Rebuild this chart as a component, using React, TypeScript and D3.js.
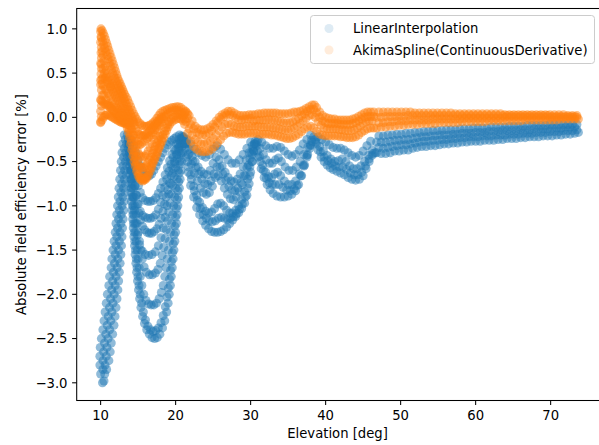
import React from "react";
import * as d3 from "d3";

const W = 599;
const H = 445;
const xDomain: [number, number] = [6.81, 76.9];
const yDomain: [number, number] = [-3.2, 1.23];
const xTicks = [10, 20, 30, 40, 50, 60, 70];
const yTicks = [1.0, 0.5, 0.0, -0.5, -1.0, -1.5, -2.0, -2.5, -3.0];
const seriesNames = ["LinearInterpolation", "AkimaSpline(ContinuousDerivative)"];
const seriesColors = ["#1f77b4", "#ff7f0e"];
const xLabel = "Elevation [deg]";
const yLabel = "Absolute field efficiency error [%]";

// ---- LinearInterpolation (blue) : strands of "elevation,error" pairs ----
const blueLeftBand = [
  "10.25,-3.0 10.0,-2.9 9.9,-2.8 9.9,-2.7 9.95,-2.6 10.1,-2.5 10.3,-2.4 10.45,-2.3 10.6,-2.2 10.75,-2.1 10.9,-2.0 11.1,-1.9 11.2,-1.8 11.4,-1.7 11.5,-1.6 11.65,-1.5 11.8,-1.4 11.95,-1.3 12.05,-1.2 12.15,-1.1 12.25,-1.0 12.35,-0.9 12.45,-0.8 12.55,-0.7 12.65,-0.6 12.75,-0.5 12.85,-0.4 12.95,-0.3 13.15,-0.2",
  "10.45,-2.98 10.3,-2.85 10.32,-2.75 10.4,-2.65 10.52,-2.55 10.7,-2.45 10.88,-2.35 11.02,-2.25 11.18,-2.15 11.32,-2.05 11.48,-1.95 11.6,-1.85 11.72,-1.75 11.85,-1.65 11.95,-1.55 12.05,-1.45 12.15,-1.35 12.25,-1.25 12.38,-1.15 12.5,-1.05 12.6,-0.95 12.7,-0.85 12.8,-0.75 12.9,-0.65 12.98,-0.55 13.05,-0.45 13.15,-0.35 13.28,-0.25",
  "10.55,-2.9 10.6,-2.8 10.75,-2.7 10.85,-2.6 11.0,-2.5 11.2,-2.4 11.35,-2.3 11.5,-2.2 11.65,-2.1 11.8,-2.0 11.95,-1.9 12.05,-1.8 12.2,-1.7 12.3,-1.6 12.4,-1.5 12.5,-1.4 12.6,-1.3 12.7,-1.2 12.75,-1.1 12.85,-1.0 12.95,-0.9 13.05,-0.8 13.15,-0.7 13.2,-0.6 13.3,-0.5 13.35,-0.4 13.45,-0.3 13.55,-0.2",
  "10.8,-2.85 11.1,-2.75 11.28,-2.65 11.42,-2.55 11.6,-2.45 11.78,-2.35 11.92,-2.25 12.05,-2.15 12.18,-2.05 12.3,-1.95 12.4,-1.85 12.5,-1.75 12.6,-1.65 12.7,-1.55 12.78,-1.45 12.85,-1.35 12.92,-1.25 13.0,-1.15 13.08,-1.05 13.15,-0.95 13.25,-0.85 13.32,-0.75 13.4,-0.65 13.48,-0.55 13.55,-0.45 13.65,-0.35 13.75,-0.25",
];

const blueDip1 = [
  "13.7,-0.25 13.75,-0.35 13.82,-0.45 13.88,-0.55 13.93,-0.65 14.0,-0.75 14.05,-0.85 14.12,-0.95 14.2,-1.05 14.27,-1.15 14.35,-1.25 14.43,-1.35 14.52,-1.45 14.6,-1.55 14.7,-1.65 14.8,-1.75 14.92,-1.85 15.05,-1.95 15.2,-2.05 15.37,-2.15 15.6,-2.25 15.85,-2.33 16.15,-2.4 16.5,-2.45 16.85,-2.49 17.2,-2.5 17.55,-2.49 17.9,-2.45 18.25,-2.38 18.55,-2.3 18.8,-2.2 19.0,-2.1 19.15,-2.0 19.3,-1.9 19.42,-1.8 19.55,-1.7 19.67,-1.6 19.78,-1.5 19.9,-1.4 20.0,-1.3 20.1,-1.2 20.2,-1.1 20.3,-1.0 20.4,-0.9 20.5,-0.8 20.6,-0.7 20.7,-0.6 20.8,-0.5 20.9,-0.4 21.0,-0.3 21.1,-0.22",
  "13.78,-0.3 13.85,-0.4 13.9,-0.5 13.96,-0.6 14.02,-0.7 14.08,-0.8 14.15,-0.9 14.22,-1.0 14.3,-1.1 14.38,-1.2 14.46,-1.3 14.55,-1.4 14.65,-1.5 14.75,-1.6 14.86,-1.7 14.98,-1.8 15.12,-1.9 15.28,-2.0 15.47,-2.1 15.7,-2.2 15.98,-2.29 16.3,-2.36 16.65,-2.4 17.0,-2.42 17.35,-2.41 17.7,-2.38 18.05,-2.32 18.35,-2.24 18.62,-2.14 18.85,-2.03 19.03,-1.93 19.18,-1.83 19.32,-1.73 19.45,-1.63 19.57,-1.53 19.68,-1.43 19.8,-1.33 19.9,-1.23 20.0,-1.13 20.1,-1.03 20.2,-0.93 20.3,-0.83 20.4,-0.73 20.5,-0.63 20.6,-0.53 20.72,-0.43 20.85,-0.33 21.0,-0.25",
  "13.8,-0.3 13.87,-0.4 13.95,-0.5 14.02,-0.6 14.1,-0.7 14.18,-0.8 14.27,-0.9 14.36,-1.0 14.45,-1.1 14.55,-1.2 14.65,-1.3 14.76,-1.4 14.88,-1.5 15.0,-1.6 15.15,-1.7 15.3,-1.8 15.5,-1.9 15.75,-2.0 16.05,-2.07 16.4,-2.11 16.75,-2.12 17.1,-2.12 17.45,-2.1 17.8,-2.05 18.1,-1.98 18.35,-1.9 18.55,-1.8 18.72,-1.7 18.88,-1.6 19.03,-1.5 19.18,-1.4 19.32,-1.3 19.46,-1.2 19.6,-1.1 19.74,-1.0 19.88,-0.9 20.03,-0.8 20.18,-0.7 20.33,-0.6 20.5,-0.5 20.68,-0.4 20.88,-0.3 21.05,-0.23",
  "13.85,-0.3 13.95,-0.4 14.05,-0.5 14.15,-0.6 14.25,-0.7 14.35,-0.8 14.47,-0.9 14.6,-1.0 14.73,-1.1 14.87,-1.2 15.02,-1.3 15.18,-1.4 15.36,-1.5 15.56,-1.6 15.8,-1.69 16.1,-1.75 16.5,-1.78 16.9,-1.78 17.3,-1.76 17.65,-1.72 17.95,-1.65 18.2,-1.56 18.4,-1.47 18.58,-1.37 18.75,-1.27 18.92,-1.17 19.08,-1.07 19.25,-0.97 19.42,-0.87 19.6,-0.77 19.8,-0.67 20.0,-0.57 20.2,-0.47 20.45,-0.38 20.7,-0.3 20.95,-0.23",
  "13.88,-0.32 13.98,-0.45 14.1,-0.6 14.22,-0.75 14.36,-0.9 14.52,-1.05 14.7,-1.2 14.92,-1.33 15.2,-1.44 15.55,-1.51 15.95,-1.55 16.4,-1.56 16.85,-1.55 17.3,-1.52 17.7,-1.45 18.05,-1.36 18.35,-1.25 18.6,-1.13 18.85,-1.0 19.1,-0.87 19.35,-0.75 19.6,-0.63 19.88,-0.52 20.18,-0.42 20.5,-0.33 20.8,-0.26",
  "13.9,-0.28 14.02,-0.38 14.15,-0.48 14.28,-0.58 14.42,-0.68 14.57,-0.78 14.73,-0.88 14.9,-0.98 15.1,-1.08 15.32,-1.16 15.57,-1.23 15.85,-1.27 16.2,-1.3 16.5,-1.31 16.8,-1.31 17.15,-1.29 17.5,-1.26 17.8,-1.21 18.05,-1.14 18.3,-1.06 18.52,-0.98 18.74,-0.9 18.96,-0.82 19.18,-0.74 19.4,-0.66 19.62,-0.58 19.85,-0.5 20.1,-0.42 20.35,-0.35 20.62,-0.28 20.9,-0.22",
  "13.95,-0.3 14.1,-0.42 14.26,-0.54 14.42,-0.66 14.6,-0.77 14.8,-0.88 15.02,-0.98 15.28,-1.06 15.6,-1.11 15.95,-1.13 16.3,-1.14 16.65,-1.14 17.0,-1.13 17.35,-1.1 17.7,-1.04 18.0,-0.96 18.28,-0.88 18.55,-0.79 18.82,-0.7 19.1,-0.61 19.38,-0.53 19.68,-0.45 20.0,-0.37 20.33,-0.3 20.7,-0.24",
  "14.0,-0.28 14.2,-0.38 14.4,-0.48 14.6,-0.58 14.82,-0.68 15.05,-0.77 15.3,-0.85 15.6,-0.91 15.95,-0.94 16.3,-0.95 16.65,-0.95 17.0,-0.94 17.35,-0.91 17.7,-0.86 18.0,-0.8 18.3,-0.73 18.6,-0.65 18.9,-0.57 19.2,-0.49 19.5,-0.42 19.8,-0.36 20.1,-0.3 20.45,-0.25 20.8,-0.21",
  "14.1,-0.25 14.4,-0.32 14.7,-0.4 15.0,-0.48 15.3,-0.55 15.6,-0.6 15.9,-0.64 16.2,-0.66 16.5,-0.66 16.8,-0.64 17.1,-0.6 17.4,-0.55 17.7,-0.5 18.0,-0.45 18.3,-0.4 18.6,-0.35 18.9,-0.31 19.2,-0.28 19.5,-0.26 19.8,-0.24 20.1,-0.22 20.5,-0.2",
];

const blueDip2 = [
  "21.1,-0.25 21.4,-0.45 21.7,-0.62 22.0,-0.77 22.4,-0.9 22.8,-1.02 23.2,-1.1 23.6,-1.17 24.0,-1.22 24.4,-1.26 24.8,-1.29 25.2,-1.3 25.6,-1.3 26.0,-1.29 26.4,-1.27 26.8,-1.24 27.2,-1.2 27.6,-1.16 28.0,-1.12 28.4,-1.08 28.8,-1.03 29.2,-0.97 29.5,-0.88 29.8,-0.75 30.0,-0.62 30.2,-0.5 30.4,-0.38 30.6,-0.27",
  "21.3,-0.35 21.7,-0.56 22.1,-0.7 22.5,-0.83 22.9,-0.94 23.3,-1.03 23.7,-1.1 24.1,-1.14 24.5,-1.17 24.9,-1.18 25.3,-1.17 25.7,-1.14 26.1,-1.13 26.5,-1.14 26.9,-1.15 27.3,-1.14 27.7,-1.12 28.1,-1.09 28.5,-1.04 28.9,-0.98 29.3,-0.9 29.6,-0.8 29.9,-0.66 30.2,-0.5 30.4,-0.38",
  "21.2,-0.3 21.6,-0.5 22.0,-0.65 22.4,-0.78 22.8,-0.88 23.2,-0.96 23.6,-1.02 24.0,-1.06 24.4,-1.08 24.8,-1.07 25.2,-1.03 25.6,-0.98 26.0,-0.97 26.4,-1.0 26.8,-1.05 27.2,-1.08 27.6,-1.08 28.0,-1.05 28.4,-1.0 28.8,-0.93 29.2,-0.84 29.6,-0.7 29.9,-0.56 30.2,-0.42 30.5,-0.3",
  "21.3,-0.3 21.7,-0.42 22.1,-0.53 22.5,-0.63 22.9,-0.72 23.3,-0.8 23.7,-0.85 24.1,-0.87 24.5,-0.85 24.9,-0.78 25.3,-0.68 25.7,-0.66 26.1,-0.72 26.5,-0.8 26.9,-0.87 27.3,-0.92 27.7,-0.93 28.1,-0.9 28.5,-0.84 28.9,-0.76 29.3,-0.66 29.7,-0.54 30.1,-0.4 30.5,-0.3",
  "21.5,-0.3 21.9,-0.4 22.3,-0.49 22.7,-0.57 23.1,-0.64 23.5,-0.7 23.9,-0.75 24.3,-0.76 24.7,-0.72 25.1,-0.64 25.5,-0.56 25.9,-0.57 26.3,-0.64 26.7,-0.71 27.1,-0.78 27.5,-0.82 27.9,-0.83 28.3,-0.8 28.7,-0.74 29.1,-0.66 29.5,-0.57 29.9,-0.47 30.3,-0.36",
  "21.4,-0.28 21.8,-0.36 22.2,-0.44 22.6,-0.5 23.0,-0.56 23.4,-0.61 23.8,-0.64 24.2,-0.65 24.6,-0.6 25.0,-0.52 25.4,-0.45 25.8,-0.48 26.2,-0.55 26.6,-0.62 27.0,-0.68 27.4,-0.72 27.8,-0.73 28.2,-0.7 28.6,-0.64 29.0,-0.56 29.4,-0.48 29.8,-0.4 30.2,-0.32",
  "21.5,-0.25 22.0,-0.3 22.5,-0.36 23.0,-0.4 23.5,-0.43 24.0,-0.45 24.5,-0.42 25.0,-0.36 25.5,-0.32 26.0,-0.36 26.5,-0.42 27.0,-0.48 27.5,-0.52 28.0,-0.52 28.5,-0.48 29.0,-0.42 29.5,-0.35 30.0,-0.28",
];

const blueDip3 = [
  "30.7,-0.3 31.0,-0.45 31.4,-0.58 31.8,-0.68 32.2,-0.76 32.6,-0.82 33.0,-0.86 33.5,-0.89 34.0,-0.9 34.5,-0.9 35.0,-0.89 35.5,-0.87 36.0,-0.83 36.4,-0.76 36.8,-0.66 37.2,-0.54 37.6,-0.42 38.0,-0.31 38.4,-0.22",
  "30.9,-0.38 31.3,-0.5 31.7,-0.6 32.1,-0.69 32.5,-0.74 32.9,-0.76 33.3,-0.76 33.8,-0.76 34.3,-0.79 34.8,-0.82 35.3,-0.83 35.8,-0.81 36.2,-0.77 36.7,-0.66 37.1,-0.55 37.5,-0.45 37.9,-0.35 38.2,-0.28",
  "30.8,-0.32 31.2,-0.44 31.6,-0.54 32.0,-0.62 32.4,-0.67 32.8,-0.68 33.2,-0.64 33.6,-0.62 34.0,-0.66 34.5,-0.72 35.0,-0.76 35.5,-0.76 36.0,-0.72 36.5,-0.64 37.0,-0.54 37.5,-0.43 38.0,-0.32",
  "30.9,-0.28 31.3,-0.35 31.7,-0.42 32.1,-0.48 32.5,-0.52 32.9,-0.52 33.3,-0.48 33.7,-0.46 34.1,-0.5 34.6,-0.56 35.1,-0.6 35.6,-0.6 36.1,-0.56 36.6,-0.5 37.1,-0.42 37.6,-0.34 38.1,-0.26",
  "31.0,-0.25 31.5,-0.28 32.0,-0.32 32.5,-0.35 33.0,-0.35 33.5,-0.33 34.0,-0.34 34.5,-0.38 35.0,-0.42 35.5,-0.44 36.0,-0.42 36.5,-0.37 37.0,-0.3 37.5,-0.25 38.0,-0.2",
];

const blueDip4 = [
  "38.6,-0.25 39.0,-0.37 39.4,-0.45 39.8,-0.5 40.2,-0.54 40.6,-0.57 41.0,-0.59 41.5,-0.61 42.0,-0.63 42.5,-0.65 43.0,-0.68 43.5,-0.7 44.0,-0.71 44.5,-0.7 45.0,-0.66 45.4,-0.58 45.8,-0.5 46.2,-0.43 46.6,-0.4",
  "38.8,-0.3 39.3,-0.39 39.8,-0.45 40.3,-0.49 40.8,-0.52 41.3,-0.55 41.8,-0.56 42.3,-0.56 42.8,-0.59 43.3,-0.63 43.8,-0.65 44.3,-0.65 44.8,-0.62 45.3,-0.55 45.8,-0.47 46.3,-0.41",
  "38.7,-0.28 39.2,-0.33 39.7,-0.38 40.2,-0.43 40.7,-0.47 41.2,-0.5 41.7,-0.49 42.2,-0.47 42.7,-0.5 43.2,-0.55 43.7,-0.58 44.2,-0.58 44.7,-0.55 45.2,-0.5 45.7,-0.43 46.2,-0.37",
  "39.0,-0.22 39.5,-0.25 40.0,-0.28 40.5,-0.31 41.0,-0.34 41.5,-0.35 42.0,-0.35 42.5,-0.37 43.0,-0.4 43.5,-0.43 44.0,-0.45 44.5,-0.43 45.0,-0.38 45.5,-0.32 46.0,-0.27",
];

const blueTail = [
  "46.8,-0.4 47.4,-0.41 48.0,-0.41 48.6,-0.4 49.2,-0.38 49.8,-0.38 50.4,-0.37 51.0,-0.37 51.6,-0.35 52.2,-0.34 52.8,-0.33 53.4,-0.33 54.0,-0.32 54.6,-0.32 55.2,-0.31 55.8,-0.3 56.4,-0.3 57.0,-0.29 57.6,-0.29 58.2,-0.28 58.8,-0.28 59.4,-0.27 60.0,-0.27 60.6,-0.27 61.2,-0.26 61.8,-0.26 62.4,-0.26 63.0,-0.25 63.6,-0.25 64.2,-0.24 64.8,-0.24 65.4,-0.24 66.0,-0.23 66.6,-0.23 67.2,-0.22 67.8,-0.22 68.4,-0.22 69.0,-0.21 69.6,-0.21 70.2,-0.21 70.8,-0.2 71.4,-0.2 72.0,-0.19 72.6,-0.19 73.2,-0.18 73.7,-0.17",
  "47.1,-0.34 47.7,-0.35 48.3,-0.34 48.9,-0.33 49.5,-0.32 50.1,-0.31 50.7,-0.31 51.3,-0.3 51.9,-0.29 52.5,-0.28 53.1,-0.27 53.7,-0.27 54.3,-0.26 54.9,-0.26 55.5,-0.25 56.1,-0.25 56.7,-0.24 57.3,-0.24 57.9,-0.23 58.5,-0.23 59.1,-0.22 59.7,-0.22 60.3,-0.22 60.9,-0.21 61.5,-0.21 62.1,-0.21 62.7,-0.2 63.3,-0.2 63.9,-0.2 64.5,-0.19 65.1,-0.19 65.7,-0.19 66.3,-0.18 66.9,-0.18 67.5,-0.18 68.1,-0.17 68.7,-0.17 69.3,-0.17 69.9,-0.16 70.5,-0.16 71.1,-0.16 71.7,-0.15 72.3,-0.15 72.9,-0.15 73.5,-0.14",
  "46.8,-0.28 47.4,-0.28 48.0,-0.28 48.6,-0.27 49.2,-0.26 49.8,-0.26 50.4,-0.25 51.0,-0.25 51.6,-0.24 52.2,-0.23 52.8,-0.22 53.4,-0.22 54.0,-0.21 54.6,-0.21 55.2,-0.2 55.8,-0.2 56.4,-0.2 57.0,-0.19 57.6,-0.19 58.2,-0.18 58.8,-0.18 59.4,-0.18 60.0,-0.17 60.6,-0.17 61.2,-0.17 61.8,-0.16 62.4,-0.16 63.0,-0.16 63.6,-0.15 64.2,-0.15 64.8,-0.15 65.4,-0.15 66.0,-0.14 66.6,-0.14 67.2,-0.14 67.8,-0.13 68.4,-0.13 69.0,-0.13 69.6,-0.13 70.2,-0.12 70.8,-0.12 71.4,-0.12 72.0,-0.11 72.6,-0.11 73.2,-0.11",
  "47.1,-0.21 47.7,-0.21 48.3,-0.2 48.9,-0.2 49.5,-0.19 50.1,-0.19 50.7,-0.18 51.3,-0.18 51.9,-0.17 52.5,-0.17 53.1,-0.16 53.7,-0.16 54.3,-0.15 54.9,-0.15 55.5,-0.15 56.1,-0.14 56.7,-0.14 57.3,-0.14 57.9,-0.13 58.5,-0.13 59.1,-0.13 59.7,-0.12 60.3,-0.12 60.9,-0.12 61.5,-0.12 62.1,-0.11 62.7,-0.11 63.3,-0.11 63.9,-0.11 64.5,-0.1 65.1,-0.1 65.7,-0.1 66.3,-0.1 66.9,-0.09 67.5,-0.09 68.1,-0.09 68.7,-0.09 69.3,-0.09 69.9,-0.08 70.5,-0.08 71.1,-0.08 71.7,-0.08 72.3,-0.08 72.9,-0.08 73.5,-0.08",
];

// ---- AkimaSpline(ContinuousDerivative) (orange) ----
const orangeHead = [
  "10.0,0.97 10.05,0.91 10.0,0.85 10.1,0.79 10.05,0.73 10.1,0.67 10.0,0.61 10.1,0.55 10.05,0.49 10.15,0.43 10.0,0.37 10.1,0.31 10.2,0.25 10.05,0.19 10.1,0.13 10.0,0.07 10.1,0.01 10.0,-0.05",
  "10.05,1.0 10.2,0.98 10.35,0.95 10.5,0.92 10.65,0.88 10.8,0.84 10.95,0.8 11.1,0.76 11.25,0.72 11.4,0.68 11.55,0.64 11.7,0.6 11.85,0.56 12.0,0.52 12.15,0.48 12.3,0.44 12.45,0.41 12.6,0.38 12.75,0.35 12.9,0.32 13.05,0.29 13.2,0.26 13.4,0.23 13.6,0.2 13.8,0.16 14.0,0.12 14.2,0.08 14.4,0.04 14.6,0.01 14.8,-0.02 15.0,-0.05 15.25,-0.07 15.5,-0.09 15.75,-0.1 16.0,-0.1 16.25,-0.1 16.5,-0.09 16.75,-0.08 17.0,-0.06 17.25,-0.04 17.5,-0.01 17.75,0.02 18.0,0.05 18.3,0.07 18.6,0.08 18.9,0.09 19.2,0.1 19.5,0.11 19.8,0.11 20.1,0.12 20.4,0.12 20.7,0.11 21.0,0.09 21.3,0.07 21.6,0.04",
  "10.1,0.9 10.25,0.86 10.4,0.82 10.55,0.78 10.7,0.74 10.85,0.7 11.0,0.66 11.15,0.62 11.3,0.58 11.45,0.54 11.6,0.5 11.75,0.47 11.9,0.44 12.05,0.41 12.2,0.38 12.35,0.35 12.5,0.32 12.65,0.3 12.8,0.27 12.95,0.24 13.1,0.21 13.25,0.18 13.4,0.15 13.55,0.12 13.7,0.09 13.85,0.06 14.0,0.03 14.15,0.0 14.3,-0.03 14.45,-0.06",
  "10.2,0.75 10.3,0.7 10.45,0.64 10.6,0.58 10.75,0.53 10.9,0.49 11.1,0.45 11.3,0.41 11.5,0.38 11.7,0.35 11.9,0.32 12.1,0.29 12.3,0.26 12.5,0.23 12.7,0.2 12.9,0.17 13.1,0.13 13.3,0.09 13.5,0.05 13.7,0.0 13.9,-0.06 14.1,-0.13 14.3,-0.2 14.5,-0.27 14.7,-0.33 14.9,-0.38 15.1,-0.42 15.35,-0.44 15.6,-0.45 15.85,-0.44 16.1,-0.42 16.35,-0.38 16.6,-0.34 16.85,-0.3 17.1,-0.25 17.35,-0.2 17.6,-0.15 17.85,-0.1 18.1,-0.06 18.4,-0.02 18.7,0.01 19.0,0.04 19.3,0.06 19.6,0.07 19.9,0.08 20.2,0.08 20.5,0.07 20.8,0.05 21.1,0.02",
  "10.1,0.6 10.3,0.55 10.5,0.5 10.7,0.46 10.9,0.42 11.1,0.38 11.3,0.34 11.5,0.31 11.7,0.28 11.9,0.25 12.1,0.22 12.3,0.19 12.5,0.16 12.7,0.13 12.9,0.1 13.1,0.07 13.3,0.04 13.5,0.01 13.7,-0.03",
  "10.0,0.42 10.2,0.38 10.4,0.35 10.6,0.32 10.8,0.3 11.0,0.27 11.2,0.24 11.4,0.21 11.6,0.18 11.8,0.15 12.0,0.12 12.2,0.1 12.4,0.08 12.6,0.06 12.8,0.04 13.0,0.02 13.2,-0.01 13.4,-0.04 13.6,-0.08 13.8,-0.14 13.95,-0.2 14.1,-0.27 14.25,-0.34 14.4,-0.41 14.55,-0.47 14.7,-0.53 14.9,-0.59 15.1,-0.64 15.3,-0.67 15.5,-0.69 15.7,-0.7 15.9,-0.69 16.1,-0.67 16.3,-0.63 16.5,-0.59 16.7,-0.55 16.9,-0.51 17.1,-0.47 17.3,-0.43 17.5,-0.39 17.7,-0.35 17.9,-0.3 18.1,-0.25 18.3,-0.2 18.5,-0.16 18.7,-0.12 18.9,-0.08 19.1,-0.05 19.4,-0.02 19.7,0.0 20.0,0.02 20.3,0.03 20.6,0.03 20.9,0.01 21.2,-0.02",
  "10.0,0.2 10.2,0.18 10.4,0.16 10.6,0.15 10.8,0.14 11.0,0.13 11.2,0.12 11.4,0.1 11.6,0.08 11.8,0.06 12.0,0.04 12.2,0.02 12.4,0.0 12.6,-0.02 12.8,-0.03 13.0,-0.04 13.2,-0.05 13.4,-0.06",
  "10.0,-0.06 10.2,-0.03 10.4,0.0 10.6,0.02 10.8,0.03 11.0,0.03 11.2,0.02 11.4,0.01 11.6,0.0 11.8,-0.01 12.0,-0.02 12.2,-0.03 12.4,-0.04 12.6,-0.05 12.8,-0.06 13.0,-0.06 13.2,-0.07 13.4,-0.08 13.55,-0.12 13.7,-0.17 13.85,-0.23 14.0,-0.3 14.15,-0.37 14.3,-0.44 14.45,-0.5 14.6,-0.55 14.8,-0.61 15.0,-0.66 15.2,-0.69 15.4,-0.71 15.6,-0.72 15.8,-0.71 16.0,-0.7 16.2,-0.68 16.4,-0.65 16.6,-0.61 16.8,-0.57 17.0,-0.52 17.2,-0.48 17.4,-0.44 17.6,-0.4 17.8,-0.35 18.0,-0.31 18.2,-0.27 18.4,-0.23 18.6,-0.19 18.8,-0.15 19.0,-0.11 19.2,-0.08 19.5,-0.05 19.8,-0.03 20.1,-0.02 20.4,-0.01 20.7,-0.02 21.0,-0.04",
  "14.3,-0.05 14.5,-0.09 14.7,-0.13 14.9,-0.16 15.1,-0.19 15.3,-0.2 15.5,-0.21 15.7,-0.21 15.9,-0.2 16.1,-0.19 16.3,-0.18 16.5,-0.16 16.7,-0.14 16.9,-0.12 17.1,-0.1 17.3,-0.08 17.5,-0.06 17.7,-0.04 17.9,-0.02 18.1,0.0",
  "13.6,-0.02 13.8,-0.06 14.0,-0.1 14.2,-0.15 14.4,-0.2 14.6,-0.24 14.8,-0.27 15.0,-0.3 15.2,-0.31 15.45,-0.3 15.7,-0.28 15.95,-0.26 16.2,-0.24 16.45,-0.22 16.7,-0.2 16.95,-0.17 17.2,-0.14 17.45,-0.11 17.7,-0.08 17.95,-0.05 18.2,-0.02 18.5,0.01 18.8,0.03",
  "14.5,-0.38 14.7,-0.44 14.9,-0.5 15.1,-0.54 15.3,-0.56 15.5,-0.57 15.7,-0.57 15.9,-0.56 16.1,-0.54 16.3,-0.51 16.5,-0.48 16.7,-0.45 16.9,-0.41 17.1,-0.37 17.3,-0.33 17.5,-0.29 17.7,-0.25 17.9,-0.21",
  "10.3,0.45 10.6,0.44 10.9,0.4 11.3,0.35 10.4,0.25 10.7,0.2 11.0,0.15 11.4,0.12 11.8,0.08 12.2,0.05 12.6,0.02",
];

const orangeDip2 = [
  "21.2,-0.08 21.6,-0.18 22.0,-0.27 22.4,-0.33 22.8,-0.36 23.2,-0.38 23.6,-0.39 24.0,-0.39 24.4,-0.38 24.8,-0.36 25.2,-0.33 25.6,-0.29 26.0,-0.25 26.4,-0.21 26.8,-0.18 27.2,-0.17 27.6,-0.17 28.0,-0.18 28.4,-0.19 28.8,-0.19 29.2,-0.19 29.6,-0.18 30.0,-0.18",
  "21.4,-0.05 21.8,-0.13 22.2,-0.2 22.6,-0.25 23.0,-0.28 23.4,-0.3 23.8,-0.3 24.2,-0.29 24.6,-0.27 25.0,-0.24 25.4,-0.2 25.8,-0.15 26.2,-0.11 26.6,-0.08 27.0,-0.07 27.4,-0.08 27.8,-0.1 28.2,-0.11 28.6,-0.11 29.0,-0.11 29.4,-0.1 29.8,-0.1",
  "21.2,0.05 21.6,-0.01 22.0,-0.08 22.4,-0.13 22.8,-0.17 23.2,-0.19 23.6,-0.2 24.0,-0.2 24.4,-0.18 24.8,-0.15 25.2,-0.11 25.6,-0.06 26.0,-0.02 26.4,0.01 26.8,0.03 27.2,0.03 27.6,0.02 28.0,-0.01 28.4,-0.03 28.8,-0.03 29.2,-0.02 29.6,-0.02 30.0,-0.01",
  "21.4,0.06 21.8,0.02 22.2,-0.04 22.6,-0.1 23.0,-0.13 23.4,-0.14 23.8,-0.14 24.2,-0.13 24.6,-0.11 25.0,-0.08 25.4,-0.04 25.8,0.0 26.2,0.03 26.6,0.05 27.0,0.07 27.4,0.07 27.8,0.05 28.2,0.03 28.6,0.02 29.0,0.02 29.4,0.02 29.8,0.03",
];

const orangeMid = [
  "30.4,-0.18 30.8,-0.18 31.2,-0.19 31.6,-0.19 32.0,-0.19 32.4,-0.19 32.8,-0.2 33.2,-0.2 33.6,-0.21 34.0,-0.22 34.4,-0.23 34.8,-0.24 35.2,-0.24 35.6,-0.23 36.0,-0.21 36.4,-0.19 36.8,-0.16 37.2,-0.13 37.6,-0.11 38.0,-0.1 38.4,-0.12 38.8,-0.16 39.2,-0.19 39.6,-0.2 40.0,-0.21 40.4,-0.21 40.8,-0.21 41.2,-0.21 41.6,-0.21 42.0,-0.22 42.4,-0.22 42.8,-0.23 43.2,-0.23 43.6,-0.23 44.0,-0.22 44.4,-0.2 44.8,-0.17 45.2,-0.15 45.6,-0.13 46.0,-0.12 46.4,-0.12",
  "30.2,-0.1 30.6,-0.1 31.0,-0.1 31.4,-0.11 31.8,-0.11 32.2,-0.11 32.6,-0.11 33.0,-0.12 33.4,-0.12 33.8,-0.13 34.2,-0.14 34.6,-0.15 35.0,-0.15 35.4,-0.14 35.8,-0.12 36.2,-0.1 36.6,-0.07 37.0,-0.04 37.4,-0.01 37.8,0.02 38.2,0.03 38.6,0.0 39.0,-0.05 39.4,-0.09 39.8,-0.12 40.2,-0.13 40.6,-0.13 41.0,-0.13 41.4,-0.13 41.8,-0.14 42.2,-0.14 42.6,-0.15 43.0,-0.15 43.4,-0.15 43.8,-0.14 44.2,-0.12 44.6,-0.1 45.0,-0.07 45.4,-0.05 45.8,-0.04 46.2,-0.04",
  "30.4,-0.04 30.8,-0.03 31.2,-0.03 31.6,-0.03 32.0,-0.03 32.4,-0.02 32.8,-0.03 33.2,-0.03 33.6,-0.04 34.0,-0.05 34.4,-0.06 34.8,-0.06 35.2,-0.06 35.6,-0.05 36.0,-0.03 36.4,-0.01 36.8,0.02 37.2,0.04 37.6,0.07 38.0,0.09 38.4,0.09 38.8,0.05 39.2,0.0 39.6,-0.04 40.0,-0.06 40.4,-0.07 40.8,-0.07 41.2,-0.07 41.6,-0.07 42.0,-0.08 42.4,-0.08 42.8,-0.08 43.2,-0.08 43.6,-0.07 44.0,-0.06 44.4,-0.04 44.8,-0.02 45.2,0.0 45.6,0.01 46.0,0.01 46.4,0.01",
  "30.2,0.03 30.6,0.03 31.0,0.04 31.4,0.04 31.8,0.05 32.2,0.05 32.6,0.05 33.0,0.05 33.4,0.05 33.8,0.04 34.2,0.04 34.6,0.04 35.0,0.04 35.4,0.05 35.8,0.06 36.2,0.06 36.6,0.07 37.0,0.08 37.4,0.1 37.8,0.12 38.2,0.14 38.5,0.14 38.8,0.11 39.2,0.06 39.6,0.02 40.0,0.0 40.4,-0.01 40.8,-0.02 41.2,-0.02 41.6,-0.03 42.0,-0.03 42.4,-0.03 42.8,-0.03 43.2,-0.03 43.6,-0.02 44.0,-0.01 44.4,0.01 44.8,0.03 45.2,0.05 45.6,0.06 46.0,0.06 46.4,0.06",
];

const orangeTail = [
  "46.8,-0.12 47.4,-0.11 48.0,-0.11 48.6,-0.1 49.2,-0.1 49.8,-0.09 50.4,-0.09 51.0,-0.08 51.6,-0.08 52.2,-0.08 52.8,-0.07 53.4,-0.07 54.0,-0.07 54.6,-0.07 55.2,-0.06 55.8,-0.06 56.4,-0.06 57.0,-0.06 57.6,-0.06 58.2,-0.05 58.8,-0.05 59.4,-0.05 60.0,-0.05 60.6,-0.05 61.2,-0.05 61.8,-0.04 62.4,-0.04 63.0,-0.04 63.6,-0.04 64.2,-0.04 64.8,-0.04 65.4,-0.04 66.0,-0.04 66.6,-0.03 67.2,-0.03 67.8,-0.03 68.4,-0.03 69.0,-0.03 69.6,-0.03 70.2,-0.03 70.8,-0.03 71.4,-0.02 72.0,-0.02 72.6,-0.02 73.2,-0.02 73.7,-0.02",
  "47.1,-0.06 47.7,-0.06 48.3,-0.05 48.9,-0.05 49.5,-0.04 50.1,-0.04 50.7,-0.04 51.3,-0.03 51.9,-0.03 52.5,-0.03 53.1,-0.03 53.7,-0.03 54.3,-0.02 54.9,-0.02 55.5,-0.02 56.1,-0.02 56.7,-0.02 57.3,-0.02 57.9,-0.02 58.5,-0.01 59.1,-0.01 59.7,-0.01 60.3,-0.01 60.9,-0.01 61.5,-0.01 62.1,-0.01 62.7,-0.01 63.3,-0.01 63.9,0.0 64.5,0.0 65.1,0.0 65.7,0.0 66.3,0.0 66.9,0.0 67.5,0.0 68.1,0.0 68.7,0.0 69.3,0.0 69.9,0.0 70.5,0.0 71.1,0.0 71.7,0.0 72.3,0.0 72.9,0.0 73.5,0.0",
  "46.8,0.0 47.4,0.0 48.0,0.01 48.6,0.01 49.2,0.01 49.8,0.01 50.4,0.01 51.0,0.02 51.6,0.02 52.2,0.02 52.8,0.02 53.4,0.02 54.0,0.02 54.6,0.02 55.2,0.02 55.8,0.02 56.4,0.02 57.0,0.02 57.6,0.02 58.2,0.02 58.8,0.02 59.4,0.02 60.0,0.02 60.6,0.02 61.2,0.02 61.8,0.02 62.4,0.02 63.0,0.02 63.6,0.02 64.2,0.02 64.8,0.02 65.4,0.02 66.0,0.02 66.6,0.02 67.2,0.02 67.8,0.02 68.4,0.02 69.0,0.02 69.6,0.02 70.2,0.01 70.8,0.01 71.4,0.01 72.0,0.01 72.6,0.01 73.2,0.01",
  "47.1,0.06 47.7,0.06 48.3,0.06 48.9,0.06 49.5,0.06 50.1,0.06 50.7,0.06 51.3,0.06 51.9,0.05 52.5,0.05 53.1,0.05 53.7,0.05 54.3,0.05 54.9,0.05 55.5,0.05 56.1,0.05 56.7,0.05 57.3,0.04 57.9,0.04 58.5,0.04 59.1,0.04 59.7,0.04 60.3,0.04 60.9,0.04 61.5,0.04 62.1,0.04 62.7,0.04 63.3,0.04 63.9,0.03 64.5,0.03 65.1,0.03 65.7,0.03 66.3,0.03 66.9,0.03 67.5,0.03 68.1,0.03 68.7,0.03 69.3,0.03 69.9,0.03 70.5,0.03 71.1,0.03 71.7,0.03 72.3,0.02 72.9,0.02 73.5,0.02",
];

const parseStrand = (s: string): [number, number][] =>
  s.trim().split(/\s+/).map((p) => {
    const [a, b] = p.split(",").map(Number);
    return [a, b] as [number, number];
  });

const fmtTick = (v: number) => d3.format(".1f")(v).replace("-", "\u2212");

export default function App() {
  const left = 76.7;
  const right = 602.4;
  const top = 8.5;
  const bottom = 400.5;
  const x = d3.scaleLinear().domain(xDomain).range([left, right]);
  const y = d3.scaleLinear().domain(yDomain).range([bottom, top]);

  const blue = [...blueLeftBand, ...blueDip1, ...blueDip2, ...blueDip3, ...blueDip4, ...blueTail].flatMap(parseStrand);
  const orange = [...orangeHead, ...orangeDip2, ...orangeMid, ...orangeTail].flatMap(parseStrand);

  const r = 4.5;
  const alpha = 0.5;
  const fontSize = 13.2;
  const tickLen = 4.6;

  const legX = 310.5;
  const legY = 15.5;
  const legW = 284;
  const legH = 48;

  return (
    <svg
      width={W}
      height={H}
      style={{ position: "absolute", left: 0, top: 0, background: "#fff" }}
      fontFamily="'DejaVu Sans', sans-serif"
    >
      <defs>
        <clipPath id="plotArea">
          <rect x={left} y={top} width={right - left} height={bottom - top} />
        </clipPath>
      </defs>
      <rect x={0} y={0} width={W} height={H} fill="#fff" />
      <g clipPath="url(#plotArea)">
        {blue.map((d, i) => (
          <circle key={"b" + i} cx={x(d[0])} cy={y(d[1])} r={r} fill={seriesColors[0]} fillOpacity={alpha} />
        ))}
        {orange.map((d, i) => (
          <circle key={"o" + i} cx={x(d[0])} cy={y(d[1])} r={r} fill={seriesColors[1]} fillOpacity={alpha} />
        ))}
      </g>
      <rect x={left} y={top} width={right - left} height={bottom - top} fill="none" stroke="#000" strokeWidth={1.05} />
      {xTicks.map((t) => (
        <g key={"xt" + t}>
          <line x1={x(t)} x2={x(t)} y1={bottom} y2={bottom + tickLen} stroke="#000" strokeWidth={1.05} />
          <text x={x(t)} y={bottom + tickLen + 4.6 + 10.2} textAnchor="middle" fontSize={fontSize} fill="#000">
            {String(t)}
          </text>
        </g>
      ))}
      {yTicks.map((t) => (
        <g key={"yt" + t}>
          <line x1={left - tickLen} x2={left} y1={y(t)} y2={y(t)} stroke="#000" strokeWidth={1.05} />
          <text x={left - tickLen - 4.6} y={y(t) + 4.8} textAnchor="end" fontSize={fontSize} fill="#000">
            {fmtTick(t)}
          </text>
        </g>
      ))}
      <text x={(left + right) / 2 - 2} y={438} textAnchor="middle" fontSize={fontSize} fill="#000">
        {xLabel}
      </text>
      <text
        transform={`translate(26,${(top + bottom) / 2}) rotate(-90)`}
        textAnchor="middle"
        fontSize={fontSize}
        fill="#000"
      >
        {yLabel}
      </text>
      <rect x={legX} y={legY} width={legW} height={legH} rx={3} ry={3} fill="#fff" fillOpacity={0.8} stroke="#cccccc" strokeWidth={1} />
      {seriesNames.map((name, i) => (
        <g key={name}>
          <circle cx={legX + 18.5} cy={legY + 13 + i * 21.5} r={r} fill={seriesColors[i]} fillOpacity={0.15} />
          <text x={legX + 42.5} y={legY + 13 + i * 21.5 + 4.8} fontSize={fontSize} fill="#000">
            {name}
          </text>
        </g>
      ))}
    </svg>
  );
}
